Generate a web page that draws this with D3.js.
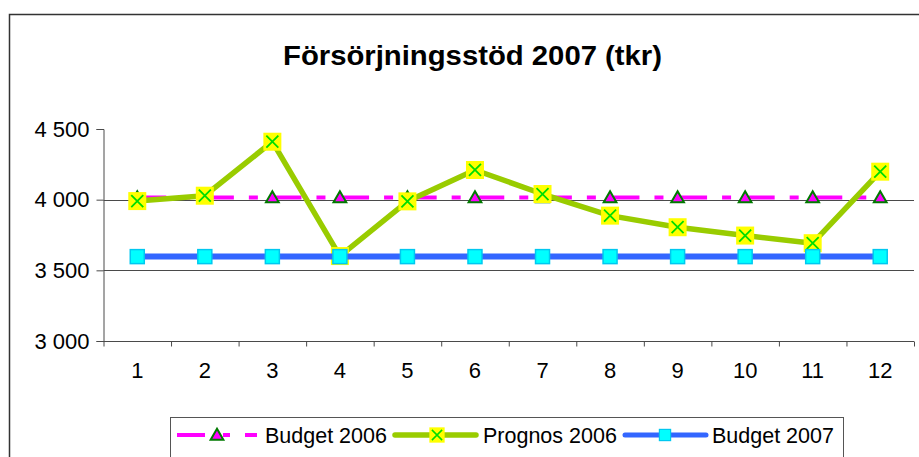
<!DOCTYPE html>
<html>
<head>
<meta charset="utf-8">
<script src="https://cdn.jsdelivr.net/npm/d3@7"></script>
<style>
body{margin:0;background:#fff;}
text{font-family:"Liberation Sans",Arial,sans-serif;fill:#000;}
</style>
</head>
<body>
<div id="chart"></div>
<script>
// data
var months = ["1","2","3","4","5","6","7","8","9","10","11","12"];
var budget2006 = [4015,4015,4015,4015,4015,4015,4015,4015,4015,4015,4015,4015];
var prognos2006 = [3990,4028,4410,3601,3988,4210,4040,3887,3805,3746,3692,4198];
var budget2007 = [3597,3597,3597,3597,3597,3597,3597,3597,3597,3597,3597,3597];
var yTicks = [3000,3500,4000,4500];
var seriesNames = ["Budget 2006","Prognos 2006","Budget 2007"];

var W = 919, H = 457;
var svg = d3.select("#chart").append("svg").attr("width",W).attr("height",H);

// outer frame (right and bottom edges are cut off)
svg.append("rect").attr("x",9.5).attr("y",14.5).attr("width",W+20).attr("height",H+20)
   .attr("fill","#fff").attr("stroke","#333").attr("stroke-width",1.5);

var title = svg.append("text").attr("x",472.5).attr("y",65).attr("text-anchor","middle")
   .attr("font-size",28).attr("font-weight","bold").text("Försörjningsstöd 2007 (tkr)");
title.attr("textLength",379).attr("lengthAdjust","spacingAndGlyphs");

var x = d3.scaleBand().domain(months).range([103.5,914]);
var xEdge = d3.scaleLinear().domain([0,12]).range([103.5,914]);
var y = d3.scaleLinear().domain([3000,4500]).range([341,129]);

// gridlines
svg.append("g").selectAll("line").data(yTicks.filter(function(d){return d>3000 && d<4500;}))
  .enter().append("line")
  .attr("x1",103.5).attr("x2",914).attr("y1",function(d){return Math.round(y(d))+0.5;}).attr("y2",function(d){return Math.round(y(d))+0.5;})
  .attr("stroke","#4a4a4a").attr("stroke-width",1);

// y axis
var fmt = function(d){ return d3.format(",")(d).replace(",", " "); };
var gy = svg.append("g").attr("transform","translate(103.5,0)")
  .call(d3.axisLeft(y).tickValues(yTicks).tickSize(7).tickPadding(7).tickFormat(fmt));
gy.selectAll("text").attr("font-size",22).attr("font-family","Liberation Sans, Arial, sans-serif").attr("fill","#000");
gy.selectAll("line,path").attr("stroke","#4a4a4a");

// x axis (ticks between categories)
var gx = svg.append("g").attr("transform","translate(0,341.5)")
  .call(d3.axisBottom(xEdge).tickValues(d3.range(0,13)).tickSize(5).tickFormat(""));
gx.select("path").attr("d","M103.5,0H914").attr("stroke","#4a4a4a");
gx.selectAll("line").attr("stroke","#4a4a4a");
var gxl = svg.append("g").attr("transform","translate(0,341.5)")
  .call(d3.axisBottom(x).tickSize(0).tickPadding(21));
gxl.select("path").remove();
gxl.selectAll("text").attr("font-size",22).attr("font-family","Liberation Sans, Arial, sans-serif").attr("fill","#000");

var line = d3.line().x(function(d,i){return x(months[i])+x.bandwidth()/2;}).y(function(d){return y(d);});
var cx = function(d,i){return x(months[i])+x.bandwidth()/2;};

// marker drawing helpers
function triangle(g){
  g.append("path").attr("d",d3.symbol(d3.symbolTriangle,70)())
   .attr("fill","#ff00ff").attr("stroke","#007a00").attr("stroke-width",2);
}
function crossBox(g){
  g.append("rect").attr("x",-9).attr("y",-9).attr("width",18).attr("height",18).attr("fill","#ffff00");
  g.append("path").attr("d","M-6,-6L6,6M6,-6L-6,6").attr("stroke","#00dd00").attr("stroke-width",1.8);
}
function cyanBox(g){
  g.append("rect").attr("x",-7).attr("y",-7).attr("width",14).attr("height",14)
   .attr("fill","#00ffff").attr("stroke","#00c8f0").attr("stroke-width",1.5);
}

// Budget 2006
svg.append("path").datum(budget2006).attr("d",line).attr("fill","none")
  .attr("stroke","#ff00ff").attr("stroke-width",4)
  .attr("stroke-dasharray","26,15,9,17.6").attr("stroke-dashoffset",-3);
svg.append("g").selectAll("g").data(budget2006).enter().append("g")
  .attr("transform",function(d,i){return "translate("+cx(d,i)+","+(y(d)+1)+")";})
  .each(function(){triangle(d3.select(this));});

// Prognos 2006
svg.append("path").datum(prognos2006).attr("d",line).attr("fill","none")
  .attr("stroke","#99cc00").attr("stroke-width",5.5).attr("stroke-linejoin","round");
svg.append("g").selectAll("g").data(prognos2006).enter().append("g")
  .attr("transform",function(d,i){return "translate("+cx(d,i)+","+y(d)+")";})
  .each(function(){crossBox(d3.select(this));});

// Budget 2007
svg.append("path").datum(budget2007).attr("d",line).attr("fill","none")
  .attr("stroke","#3366ff").attr("stroke-width",6);
svg.append("g").selectAll("g").data(budget2007).enter().append("g")
  .attr("transform",function(d,i){return "translate("+cx(d,i)+","+y(d)+")";})
  .each(function(){cyanBox(d3.select(this));});

// legend
var lg = svg.append("g");
lg.append("rect").attr("x",170.5).attr("y",417.5).attr("width",673).attr("height",60)
  .attr("fill","#fff").attr("stroke","#555").attr("stroke-width",1);
var ly = 435;
var items = [
  {tx:265,draw:function(g){
     g.append("line").attr("x1",177).attr("x2",257).attr("y1",ly).attr("y2",ly)
      .attr("stroke","#ff00ff").attr("stroke-width",4).attr("stroke-dasharray","28,18,7,15,12,40");
     var m = g.append("g").attr("transform","translate(217,"+(ly+1)+")"); triangle(m);}},
  {tx:483,draw:function(g){
     g.append("line").attr("x1",395).attr("x2",476).attr("y1",ly).attr("y2",ly)
      .attr("stroke","#99cc00").attr("stroke-width",5.5).attr("stroke-linecap","round");
     var m = g.append("g").attr("transform","translate(437,"+ly+") scale(0.85)"); crossBox(m);}},
  {tx:712,draw:function(g){
     g.append("line").attr("x1",625).attr("x2",706).attr("y1",ly).attr("y2",ly)
      .attr("stroke","#3366ff").attr("stroke-width",5).attr("stroke-linecap","round");
     var m = g.append("g").attr("transform","translate(665,"+ly+") scale(0.8)"); cyanBox(m);}}
];
items.forEach(function(it,i){
  it.draw(lg);
  lg.append("text").attr("x",it.tx).attr("y",ly+8).attr("font-size",21.5).text(seriesNames[i]);
});
</script>
</body>
</html>
